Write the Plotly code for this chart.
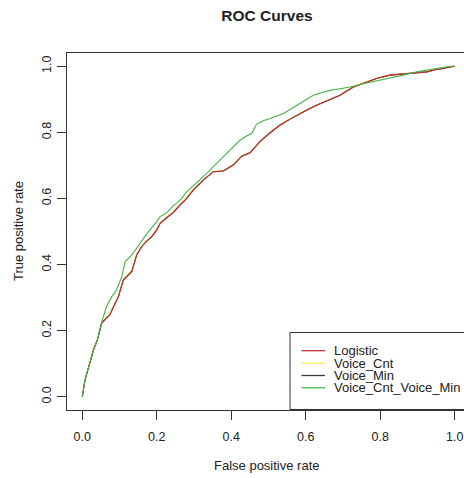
import plotly.graph_objects as go

# ---- data ----
series_names = ["Logistic", "Voice_Cnt", "Voice_Min", "Voice_Cnt_Voice_Min"]
series_colors = ["#c8323a", "#f2ef5a", "#3a3a3a", "#46b446"]

logistic_fpr = [0, 0.004, 0.007, 0.012, 0.02, 0.03, 0.04, 0.052, 0.062, 0.074, 0.085, 0.097,
                0.11, 0.124, 0.133, 0.146, 0.159, 0.172, 0.186, 0.2, 0.209, 0.225, 0.244,
                0.262, 0.276, 0.298, 0.312, 0.325, 0.352, 0.379, 0.405, 0.428, 0.45, 0.477,
                0.5, 0.531, 0.558, 0.584, 0.607, 0.629, 0.652, 0.674, 0.692, 0.71, 0.728,
                0.746, 0.764, 0.79, 0.826, 0.871, 0.898, 0.925, 0.951, 0.97, 0.987, 1.0]
logistic_tpr = [0, 0.03, 0.05, 0.07, 0.1, 0.142, 0.17, 0.223, 0.235, 0.248, 0.275, 0.303,
                0.353, 0.369, 0.379, 0.429, 0.454, 0.47, 0.484, 0.505, 0.525, 0.54, 0.557,
                0.58, 0.595, 0.625, 0.64, 0.656, 0.681, 0.683, 0.701, 0.728, 0.738, 0.772,
                0.795, 0.822, 0.84, 0.857, 0.87, 0.882, 0.893, 0.902, 0.912, 0.925, 0.937,
                0.945, 0.953, 0.963, 0.973, 0.977, 0.98, 0.983, 0.99, 0.993, 0.998, 1.0]

voice_cnt_fpr = logistic_fpr
voice_cnt_tpr = [0, 0.03, 0.05, 0.072, 0.1, 0.145, 0.172, 0.225, 0.238, 0.252, 0.278, 0.306,
                 0.355, 0.372, 0.383, 0.43, 0.455, 0.471, 0.486, 0.507, 0.527, 0.542, 0.56,
                 0.582, 0.598, 0.628, 0.642, 0.657, 0.682, 0.684, 0.702, 0.729, 0.739, 0.773,
                 0.796, 0.823, 0.841, 0.858, 0.871, 0.883, 0.894, 0.903, 0.913, 0.926, 0.938,
                 0.946, 0.954, 0.964, 0.974, 0.978, 0.981, 0.984, 0.991, 0.994, 0.998, 1.0]

voice_min_fpr = logistic_fpr
voice_min_tpr = logistic_tpr

combo_fpr = [0, 0.004, 0.007, 0.012, 0.02, 0.03, 0.04, 0.052, 0.065, 0.079, 0.092, 0.106,
             0.115, 0.133, 0.155, 0.164, 0.177, 0.2, 0.209, 0.227, 0.244, 0.253, 0.267, 0.28,
             0.298, 0.316, 0.334, 0.352, 0.37, 0.388, 0.405, 0.423, 0.44, 0.455, 0.468, 0.486,
             0.504, 0.522, 0.54, 0.562, 0.584, 0.602, 0.62, 0.642, 0.665, 0.692, 0.719, 0.754,
             0.78, 0.808, 0.835, 0.862, 0.898, 0.92, 0.942, 0.965, 0.987, 1.0]
combo_tpr = [0, 0.03, 0.05, 0.07, 0.1, 0.142, 0.17, 0.225, 0.273, 0.303, 0.323, 0.363,
             0.409, 0.429, 0.464, 0.479, 0.499, 0.53, 0.545, 0.557, 0.578, 0.585, 0.6, 0.62,
             0.638, 0.656, 0.676, 0.696, 0.716, 0.736, 0.756, 0.776, 0.788, 0.797, 0.825, 0.835,
             0.842, 0.85, 0.857, 0.872, 0.887, 0.9, 0.912, 0.92, 0.927, 0.932, 0.937, 0.947,
             0.953, 0.959, 0.966, 0.973, 0.983, 0.987, 0.992, 0.995, 1.0, 1.0]

x_tick_vals = [0.0, 0.2, 0.4, 0.6, 0.8, 1.0]
x_tick_text = ["0.0", "0.2", "0.4", "0.6", "0.8", "1.0"]
y_tick_vals = [0.0, 0.2, 0.4, 0.6, 0.8, 1.0]
y_tick_text = ["0.0", "0.2", "0.4", "0.6", "0.8", "1.0"]

# ---- figure ----
W, H = 464, 478
ML, MR, MT, MB = 67, 0, 53, 68
FONT = "Liberation Sans, Arial, sans-serif"
INK = "#222222"

series_x = [logistic_fpr, voice_cnt_fpr, voice_min_fpr, combo_fpr]
series_y = [logistic_tpr, voice_cnt_tpr, voice_min_tpr, combo_tpr]
draw_order = [1, 2, 0, 3]

fig = go.Figure()
for i in draw_order:
    fig.add_trace(go.Scatter(
        x=series_x[i], y=series_y[i], mode="lines", name=series_names[i],
        line=dict(color=series_colors[i], width=1.1), showlegend=False,
        hoverinfo="skip",
    ))

pw, ph = W - ML - MR, H - MT - MB


def px_x(p):
    return (p - ML) / pw


def px_y(p):
    return (H - MB - p) / ph


shapes = []
annotations = []
# legend box (bottom-right, cut off by the figure edge like the reference)
shapes.append(dict(type="rect", xref="paper", yref="paper",
                   x0=px_x(290), x1=px_x(480), y0=px_y(409.5), y1=px_y(332.5),
                   line=dict(color="#333333", width=1), fillcolor="white", layer="above"))
row_y = [350.7, 363.2, 375.5, 387.8]
for name, color, ry in zip(series_names, series_colors, row_y):
    shapes.append(dict(type="line", xref="paper", yref="paper",
                       x0=px_x(301.5), x1=px_x(325), y0=px_y(ry), y1=px_y(ry),
                       line=dict(color=color, width=1.3), layer="above"))
    annotations.append(dict(text=name, xref="paper", yref="paper",
                            x=px_x(332), y=px_y(ry), xanchor="left", yanchor="middle",
                            showarrow=False, font=dict(family=FONT, size=13, color=INK)))

# axis titles
annotations.append(dict(text="False positive rate", xref="paper", yref="paper",
                        x=px_x(267), y=px_y(466), xanchor="center", yanchor="middle",
                        showarrow=False, font=dict(family=FONT, size=13, color=INK)))
annotations.append(dict(text="True positive rate", xref="paper", yref="paper",
                        x=px_x(18), y=px_y(231), xanchor="center", yanchor="middle",
                        textangle=-90, showarrow=False,
                        font=dict(family=FONT, size=13, color=INK)))

fig.update_layout(
    width=W, height=H,
    margin=dict(l=ML, r=MR, t=MT, b=MB, pad=0),
    paper_bgcolor="white", plot_bgcolor="white",
    showlegend=False,
    hovermode=False,
    title=dict(text="<b>ROC Curves</b>", x=267 / W, xanchor="center",
               y=1 - 16 / H, yanchor="middle",
               font=dict(family=FONT, size=15.5, color=INK)),
    shapes=shapes, annotations=annotations,
    font=dict(family=FONT, size=12.5, color=INK),
)
fig.update_xaxes(
    range=[-0.0411, 1.0247], tickvals=x_tick_vals, ticktext=x_tick_text,
    showgrid=False, zeroline=False, showline=True, mirror=True,
    linecolor="#333333", linewidth=1,
    ticks="outside", ticklen=9, tickcolor="#333333", tickwidth=1,
    ticklabelstandoff=6, ticklabeloverflow="allow",
    tickfont=dict(family=FONT, size=12.5, color=INK),
)
fig.update_yaxes(
    range=[-0.04, 1.04], tickvals=y_tick_vals, ticktext=y_tick_text,
    showgrid=False, zeroline=False, showline=True, mirror=False,
    linecolor="#333333", linewidth=1,
    ticks="outside", ticklen=9, tickcolor="#333333", tickwidth=1,
    tickangle=-90, ticklabelstandoff=1,
    tickfont=dict(family=FONT, size=12.5, color=INK),
)

# remove the default page margin so the figure sits at the window's top-left
fig.write_html(
    "out.html",
    config={"displayModeBar": False, "staticPlot": True},
    post_script="document.body.style.margin='0';document.body.style.overflow='hidden';",
)
